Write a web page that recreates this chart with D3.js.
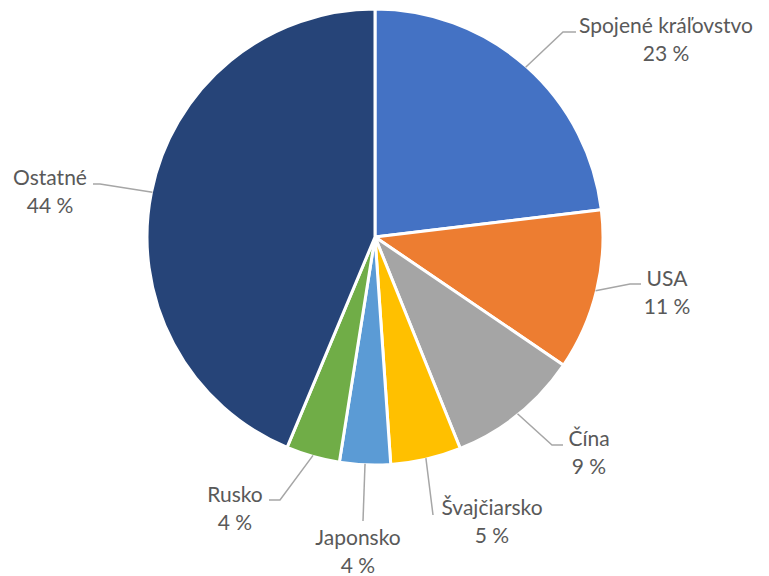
<!DOCTYPE html>
<html><head><meta charset="utf-8">
<script src="https://cdn.jsdelivr.net/npm/d3@7"></script>
<style>body{margin:0;background:#fff;}svg{display:block;}</style>
</head><body>
<svg id="c" width="769" height="576"></svg>
<script>
const categories = ["Spojené kráľovstvo","USA","Čína","Švajčiarsko","Japonsko","Rusko","Ostatné"];
const shares = [23.1, 11.4, 9.4, 5.0, 3.6, 3.8, 43.7];
const colors = ["#4472C4","#ED7D31","#A5A5A5","#FFC000","#5B9BD5","#70AD47","#264478"];
// label layout: elbow point, end of leader, text centre/baseline
const labelLayout = [
  {elbow:[563,32], end:[576,32], text:[666,33]},
  {elbow:[630,284], end:[641,284], text:[667,286]},
  {elbow:[552,445], end:[563,445], text:[589,446]},
  {elbow:[433,515], end:[433,515], text:[492,515]},
  {elbow:[363,521], end:[363,521], text:[358,545]},
  {elbow:[280,500], end:[269,500], text:[235,502]},
  {elbow:[100,184], end:[93,184], text:[50,185]}
];
const cx = 375, cy = 237, R = 228;
const svg = d3.select("#c");
const g = svg.append("g").attr("transform",`translate(${cx},${cy})`);
const pie = d3.pie().sort(null).value(d=>d)(shares);
const arc = d3.arc().innerRadius(0).outerRadius(R);
g.selectAll("path.s").data(pie).join("path").attr("class","s")
  .attr("d",arc).attr("fill",(d,i)=>colors[i])
  .attr("stroke","#fff").attr("stroke-width",3).attr("stroke-linejoin","round");
pie.forEach((d,i)=>{
  const a = (d.startAngle+d.endAngle)/2;
  const p = [cx + (R-1)*Math.sin(a), cy - (R-1)*Math.cos(a)];
  const L = labelLayout[i];
  svg.append("polyline")
    .attr("points",[p,L.elbow,L.end].map(q=>q.join(",")).join(" "))
    .attr("fill","none").attr("stroke","#A6A6A6").attr("stroke-width",1.5);
  const t = svg.append("text").attr("text-anchor","middle")
    .attr("font-family","Lato, 'Open Sans', sans-serif").attr("font-size",21)
    .attr("fill","#595959");
  t.append("tspan").attr("x",L.text[0]).attr("y",L.text[1]).text(categories[i]);
  t.append("tspan").attr("x",L.text[0]).attr("y",L.text[1]+28).text(Math.round(shares[i])+" %");
});
</script>
</body></html>
